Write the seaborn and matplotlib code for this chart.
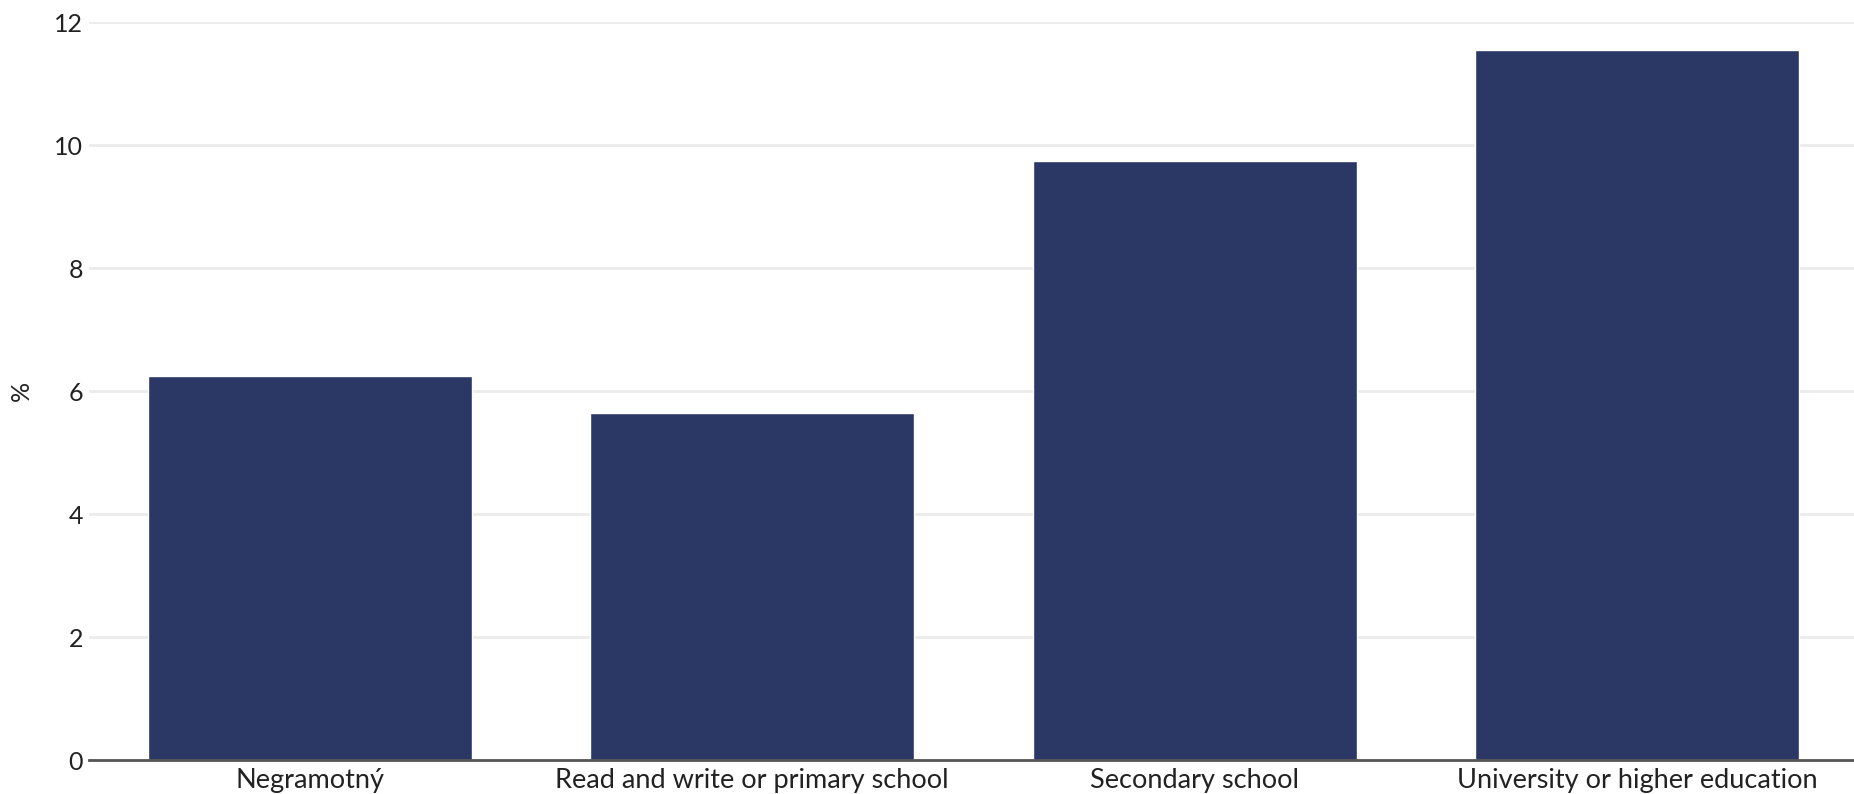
import pandas as pd
import seaborn as sns
import matplotlib.pyplot as plt

# values
categories = ['Negramotný', 'Read and write or primary school',
              'Secondary school', 'University or higher education']
values = [6.25, 5.65, 9.75, 11.55]
y_ticks = [0, 2, 4, 6, 8, 10, 12]

df = pd.DataFrame({'education': categories, 'pct': values})

sns.set_style('white')
plt.rcParams['font.family'] = ['Lato', 'DejaVu Sans']

fig = plt.figure(figsize=(18.54, 7.94), dpi=100)
ax = fig.add_axes([0.0478, 0.0428, 0.9522, 0.9289])

sns.barplot(data=df, x='education', y='pct', color='#2b3764',
            width=0.733, saturation=1, ax=ax, zorder=3)

ax.set_xlim(-0.5, 3.49)
ax.set_ylim(0, 12)
ax.set_yticks(y_ticks)
ax.yaxis.grid(True, color='#ebebeb', linewidth=2, zorder=0)
ax.set_axisbelow(True)
ax.tick_params(axis='y', length=0, pad=4, labelsize=18, labelcolor='#222222')
ax.tick_params(axis='x', length=0, pad=6, labelsize=19.5, labelcolor='#222222')

for side in ['top', 'right', 'left']:
    ax.spines[side].set_visible(False)
ax.spines['bottom'].set_color('#555555')
ax.spines['bottom'].set_linewidth(2)
ax.spines['bottom'].set_zorder(4)

ax.set_xlabel('')
ax.set_ylabel('%', fontsize=18, color='#222222')
ax.yaxis.set_label_coords(-0.0315, 0.5)
ax.patch.set_alpha(0)

fig.savefig('out.png', dpi=100)
